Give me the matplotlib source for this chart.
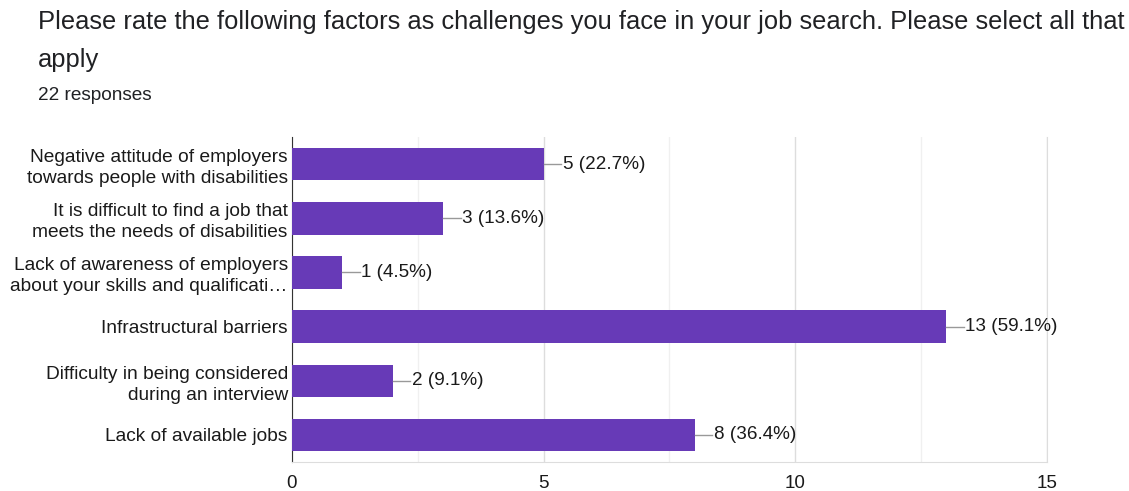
import matplotlib.pyplot as plt

plt.rcParams['font.family'] = ['Liberation Sans', 'DejaVu Sans']

categories = [
    'Negative attitude of employers\ntowards people with disabilities',
    'It is difficult to find a job that\nmeets the needs of disabilities',
    'Lack of awareness of employers\nabout your skills and qualificati\u2026',
    'Infrastructural barriers',
    'Difficulty in being considered\nduring an interview',
    'Lack of available jobs',
]
counts = [5, 3, 1, 13, 2, 8]
percents = [22.7, 13.6, 4.5, 59.1, 9.1, 36.4]
xticks = [0, 5, 10, 15]

fig = plt.figure(figsize=(11.29, 4.91), dpi=100)
ax = fig.add_axes([0.2586, 0.059, 0.6688, 0.662])

y = list(range(len(categories)))
ax.barh(y, counts, height=0.6, color='#673ab7', zorder=3)
for yi, c, p in zip(y, counts, percents):
    ax.plot([c, c + 0.35], [yi, yi], color='#999999', lw=1, zorder=3)
    ax.text(c + 0.38, yi, f'{c} ({p}%)', va='center', ha='left',
            fontsize=13.6, color='#1a1a1a', zorder=4)

ax.set_xlim(0, 15)
ax.set_ylim(len(categories) - 0.5, -0.5)
ax.set_yticks(y)
ax.set_yticklabels(categories, fontsize=13.8, color='#1a1a1a', linespacing=1.3)
ax.set_xticks(xticks)
ax.set_xticks([2.5, 7.5, 12.5], minor=True)
ax.tick_params(axis='x', which='both', length=0, pad=9, labelsize=13.6,
               labelcolor='#1a1a1a')
ax.tick_params(axis='y', length=0, pad=3)
ax.grid(axis='x', which='major', color='#dddddd', lw=1, zorder=0)
ax.grid(axis='x', which='minor', color='#f0f0f0', lw=1, zorder=0)
ax.spines['top'].set_visible(False)
ax.spines['right'].set_color('#dddddd')
ax.spines['bottom'].set_color('#dddddd')
ax.spines['left'].set_color('#333333')

fig.text(38 / 1129, 1 - 22 / 491,
         'Please rate the following factors as challenges you face in your job search. Please select all that',
         fontsize=18.4, color='#202124', va='center', ha='left')
fig.text(38 / 1129, 1 - 60 / 491, 'apply', fontsize=18.4, color='#202124',
         va='center', ha='left')
fig.text(38 / 1129, 1 - 95 / 491, '22 responses', fontsize=13.7, color='#202124',
         va='center', ha='left')

fig.savefig('out.png', dpi=100)
